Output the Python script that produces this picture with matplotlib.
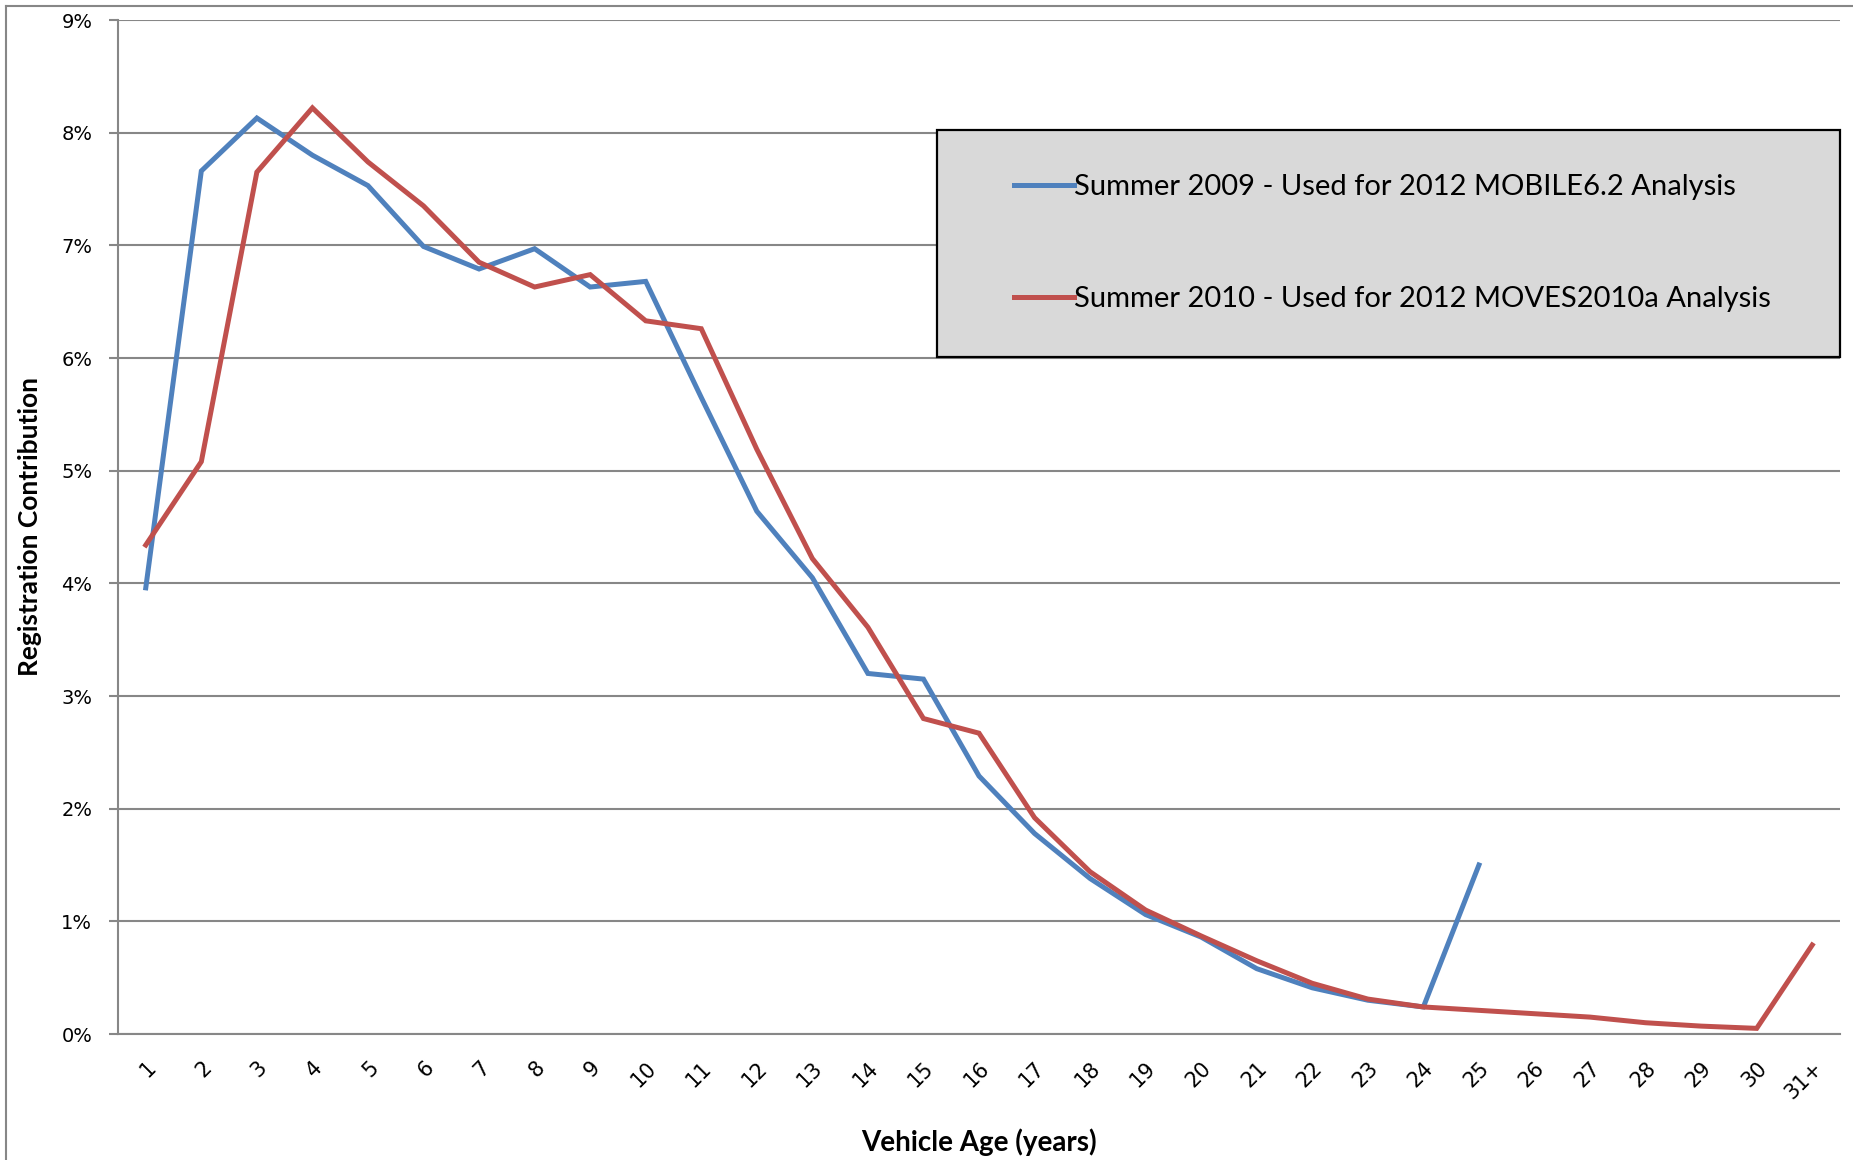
import matplotlib.pyplot as plt
import matplotlib.patches as patches
from matplotlib.lines import Line2D
from matplotlib.ticker import FuncFormatter

# vehicle age categories
ages = [str(i) for i in range(1, 31)] + ['31+']

# registration share, percent
summer_2009 = [3.96, 7.66, 8.13, 7.80, 7.53, 6.99, 6.79, 6.97, 6.63, 6.68,
               5.65, 4.64, 4.05, 3.20, 3.15, 2.29, 1.78, 1.38, 1.06, 0.86,
               0.58, 0.41, 0.30, 0.24, 1.50]
summer_2010 = [4.34, 5.08, 7.65, 8.22, 7.74, 7.35, 6.85, 6.63, 6.74, 6.33,
               6.26, 5.19, 4.22, 3.61, 2.80, 2.67, 1.92, 1.44, 1.10, 0.87,
               0.65, 0.45, 0.31, 0.24, 0.21, 0.18, 0.15, 0.10, 0.07, 0.05,
               0.79]

labels = ['Summer 2009 - Used for 2012 MOBILE6.2 Analysis',
          'Summer 2010 - Used for 2012 MOVES2010a Analysis']
colors = ['#4F81BD', '#C0504D']

narrow = ['Lato', 'DejaVu Sans']
grid_gray = '#878787'

fig = plt.figure(figsize=(18.53, 11.60), dpi=100)
ax = fig.add_axes([118 / 1853, 1 - 1034 / 1160, 1722 / 1853, 1014 / 1160])

x = list(range(1, len(ages) + 1))
ax.plot(x[:len(summer_2009)], summer_2009, color=colors[0], lw=3.6,
        solid_joinstyle='miter', zorder=3)
ax.plot(x[:len(summer_2010)], summer_2010, color=colors[1], lw=3.6,
        solid_joinstyle='miter', zorder=4)

ax.set_xlim(0.5, len(ages) + 0.5)
ax.set_ylim(0, 9)
ax.set_yticks(range(0, 10))
ax.yaxis.set_major_formatter(FuncFormatter(lambda v, p: f'{int(v)}%'))
ax.set_xticks(x)
ax.set_xticklabels(ages, rotation=45, ha='right', va='top',
                   rotation_mode='anchor')

ax.grid(axis='y', color=grid_gray, lw=1.5)
ax.set_axisbelow(True)
for side in ['top', 'right']:
    ax.spines[side].set_visible(False)
for side in ['left', 'bottom']:
    ax.spines[side].set_color(grid_gray)
    ax.spines[side].set_linewidth(1.5)
ax.tick_params(axis='y', length=6.5, width=1.5, color=grid_gray,
               labelsize=14, pad=12)
ax.tick_params(axis='x', length=0, labelsize=15, pad=17)

ax.set_ylabel('Registration Contribution', family=narrow, fontsize=19,
              fontweight='bold', labelpad=14)
ax.set_xlabel('Vehicle Age (years)', family=narrow, fontsize=20,
              fontweight='bold', labelpad=18)

# legend box
fig.patches.append(patches.Rectangle((937 / 1853, 1 - 357 / 1160),
                                     903 / 1853, 227 / 1160,
                                     transform=fig.transFigure,
                                     facecolor='#D9D9D9', edgecolor='black',
                                     lw=1.6, zorder=5))
handles = [Line2D([], [], color=c, lw=3.6) for c in colors]
fig.legend(handles, labels, loc='upper left',
           bbox_to_anchor=(988 / 1853, 1 - 148 / 1160),
           frameon=False, handlelength=2.05, handletextpad=0.0,
           labelspacing=2.95, prop={'family': narrow, 'size': 21})

# outer chart border
fig.add_artist(Line2D([6 / 1853, 6 / 1853], [0, 1 - 6 / 1160],
                      color=grid_gray, lw=1.5, transform=fig.transFigure))
fig.add_artist(Line2D([6 / 1853, 1], [1 - 6 / 1160, 1 - 6 / 1160],
                      color=grid_gray, lw=1.5, transform=fig.transFigure))

fig.savefig('out.png', dpi=100)
